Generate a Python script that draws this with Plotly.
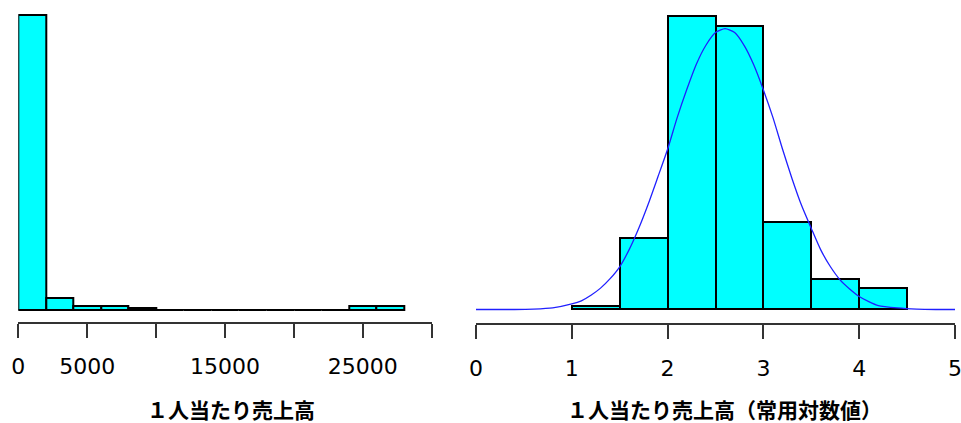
import plotly.graph_objects as go

# ---- data ----
left_edges = [0, 2000, 4000, 6000, 8000, 10000, 12000, 14000, 16000,
              18000, 20000, 22000, 24000, 26000, 28000]
left_counts = [148, 6, 2, 2, 1, 0, 0, 0, 0, 0, 0, 0, 2, 2]
left_tickvals = [0, 5000, 10000, 15000, 20000, 25000, 30000]
left_ticktext = ["0", "5000", "", "15000", "", "25000", ""]

right_edges = [1.0, 1.5, 2.0, 2.5, 3.0, 3.5, 4.0, 4.5]
right_density = [0.010, 0.182, 0.741, 0.717, 0.220, 0.076, 0.055]
right_tickvals = [0, 1, 2, 3, 4, 5]

curve_x = [0.0, 0.2, 0.4, 0.6, 0.8, 1.0, 1.1, 1.2, 1.3, 1.4, 1.5, 1.6, 1.7,
           1.8, 1.9, 2.0, 2.1, 2.2, 2.3, 2.4, 2.5, 2.6, 2.7, 2.8, 2.9, 3.0,
           3.1, 3.2, 3.3, 3.4, 3.5, 3.6, 3.7, 3.8, 3.9, 4.0, 4.1, 4.2, 4.4,
           4.6, 4.8, 5.0]
curve_y = [0.000, 0.000, 0.000, 0.001, 0.004, 0.014, 0.022, 0.036, 0.054,
           0.078, 0.108, 0.152, 0.206, 0.268, 0.336, 0.405, 0.485, 0.556,
           0.620, 0.668, 0.700, 0.710, 0.700, 0.667, 0.618, 0.555, 0.485,
           0.405, 0.330, 0.262, 0.205, 0.150, 0.108, 0.075, 0.052, 0.033,
           0.020, 0.010, 0.004, 0.001, 0.000, 0.000]

left_title = "１人当たり売上高"
right_title = "１人当たり売上高（常用対数値）"

# ---- figure ----
W, H = 961, 423
fig = go.Figure()

lc = [(a + b) / 2 for a, b in zip(left_edges[:-1], left_edges[1:])]
lw = [b - a for a, b in zip(left_edges[:-1], left_edges[1:])]
fig.add_trace(go.Bar(x=lc, y=left_counts, width=lw, xaxis="x", yaxis="y",
                     marker=dict(color="#00FFFF", line=dict(color="black", width=2)),
                     hoverinfo="skip"))
fig.add_trace(go.Scatter(x=[left_edges[0], left_edges[-1]], y=[0, 0], mode="lines",
                         xaxis="x", yaxis="y",
                         line=dict(color="black", width=1.2), hoverinfo="skip"))

rc = [(a + b) / 2 for a, b in zip(right_edges[:-1], right_edges[1:])]
rw = [b - a for a, b in zip(right_edges[:-1], right_edges[1:])]
fig.add_trace(go.Bar(x=rc, y=right_density, width=rw, xaxis="x2", yaxis="y2",
                     marker=dict(color="#00FFFF", line=dict(color="black", width=2)),
                     hoverinfo="skip"))
fig.add_trace(go.Scatter(x=curve_x, y=curve_y, mode="lines", xaxis="x2", yaxis="y2",
                         line=dict(color="#2020FF", width=1.3, shape="spline",
                                   smoothing=0.6),
                         hoverinfo="skip"))

axis_common = dict(showgrid=False, zeroline=False, showline=True,
                   linecolor="#333333", linewidth=2, ticks="outside",
                   ticklen=14, tickwidth=2, tickcolor="#333333",
                   tickfont=dict(family="DejaVu Sans", size=22, color="black"),
                   ticklabelstandoff=10, ticklabeloverflow="allow",
                   automargin=False, fixedrange=True)

fig.update_layout(
    width=W, height=H,
    margin=dict(l=0, r=0, t=0, b=0, pad=0, autoexpand=False),
    paper_bgcolor="white", plot_bgcolor="white",
    showlegend=False, bargap=0,
    xaxis=dict(domain=[18.3 / W, 431.7 / W], range=[0, 30000],
               tickmode="array", tickvals=left_tickvals, ticktext=left_ticktext,
               anchor="y", **axis_common),
    yaxis=dict(domain=[(H - 321.7) / H, (H - 3) / H], range=[-6.13, 154.0],
               visible=False, fixedrange=True),
    xaxis2=dict(domain=[476 / W, 955 / W], range=[0, 5],
                tickmode="array", tickvals=right_tickvals,
                ticktext=[str(v) for v in right_tickvals],
                anchor="y2", **axis_common),
    yaxis2=dict(domain=[(H - 323.3) / H, (H - 3) / H], range=[-0.0349, 0.7748],
                visible=False, fixedrange=True, anchor="x2"),
    annotations=[
        dict(text="<b>" + left_title + "</b>", x=231 / W, y=(H - 409) / H,
             xref="paper", yref="paper", showarrow=False,
             xanchor="center", yanchor="middle", borderpad=0,
             font=dict(family="Noto Sans CJK JP", size=21, color="black")),
        dict(text="<b>" + right_title + "</b>", x=724 / W, y=(H - 409) / H,
             xref="paper", yref="paper", showarrow=False,
             xanchor="center", yanchor="middle", borderpad=0,
             font=dict(family="Noto Sans CJK JP", size=21, color="black")),
    ],
)

fig.write_html("out.html", config={"displayModeBar": False},
               post_script="document.body.style.margin='0';")
